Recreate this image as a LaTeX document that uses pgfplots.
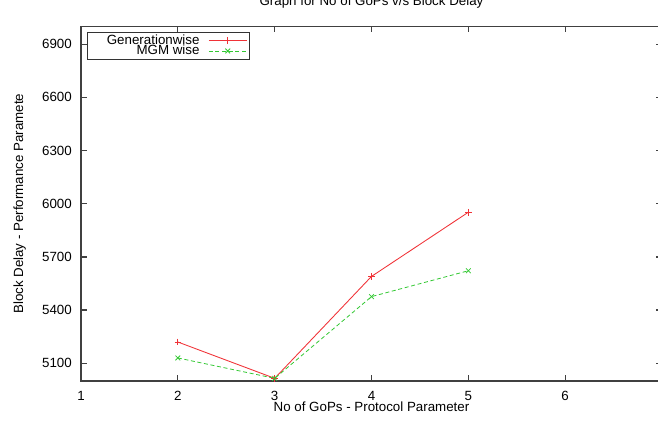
\documentclass[border=0pt]{standalone}
\usepackage{pgfplots}
\pgfplotsset{compat=1.18}
\usepackage{fontspec}
\setmainfont{Liberation Sans}
\definecolor{gpred}{RGB}{240,50,55}
\definecolor{gpgreen}{RGB}{50,200,50}
\begin{document}
\begin{tikzpicture}
\useasboundingbox (0,0) rectangle (493.5pt,315.75pt);
\begin{axis}[
  at={(60.75pt,30pt)}, anchor=south west,
  scale only axis, width=435.75pt, height=265.875pt,
  xmin=1, xmax=7, ymin=5000, ymax=7000,
  xtick={1,2,3,4,5,6}, ytick={5100,5400,5700,6000,6300,6600,6900},
  tick align=inside, major tick length=4.5pt,
  axis line style={black!75, line width=0.9pt},
  every tick/.style={black!75, line width=0.9pt},
  font=\fontsize{10}{12}\selectfont,
  /pgf/number format/assume math mode=true,
  /pgf/number format/1000 sep={},
  yticklabel style={xshift=-3.4pt},
  xticklabel style={yshift=-4.2pt},
  title={Graph for No of GoPs v/s Block Delay},
  title style={at={(axis description cs:0.5,1.0353)}, anchor=base, inner sep=0pt},
  xlabel={No of GoPs - Protocol Parameter},
  xlabel style={at={(axis description cs:0.5,-0.0874)}, anchor=base, inner sep=0pt},
  ylabel={Block Delay - Performance Paramete},
  ylabel style={at={(axis description cs:-0.0998,0.5)}, anchor=base, inner sep=0pt},
  legend cell align=right, legend plot pos=right,
  legend style={at={(axis description cs:0.0103,0.9845)}, anchor=north west,
    draw=black!80, line width=0.6pt, fill=white, inner xsep=1.5pt, inner ysep=1.3pt,
    row sep=-2.3pt, column sep=6pt,
    font=\fontsize{10}{10}\selectfont,
    nodes={inner sep=0.6pt}},
  legend image code/.code={
    \draw[mark repeat=2, mark phase=2, #1] plot coordinates {(0pt,0pt) (14.25pt,0pt) (28.5pt,0pt)};},
]
\addplot[color=gpred, line width=0.65pt, mark=+, mark size=2.5pt, mark options={solid}]
  coordinates {(2,5220) (3,5015) (4,5590) (5,5952)};
\addplot[color=gpgreen, line width=0.6pt, dash pattern=on 3pt off 2pt, mark=x, mark size=2.5pt, mark options={solid}]
  coordinates {(2,5130) (3,5015) (4,5476) (5,5622)};
\legend{\makebox[82pt][r]{Generationwise}, \makebox[82pt][r]{MGM wise}}
\end{axis}
\end{tikzpicture}
\end{document}
